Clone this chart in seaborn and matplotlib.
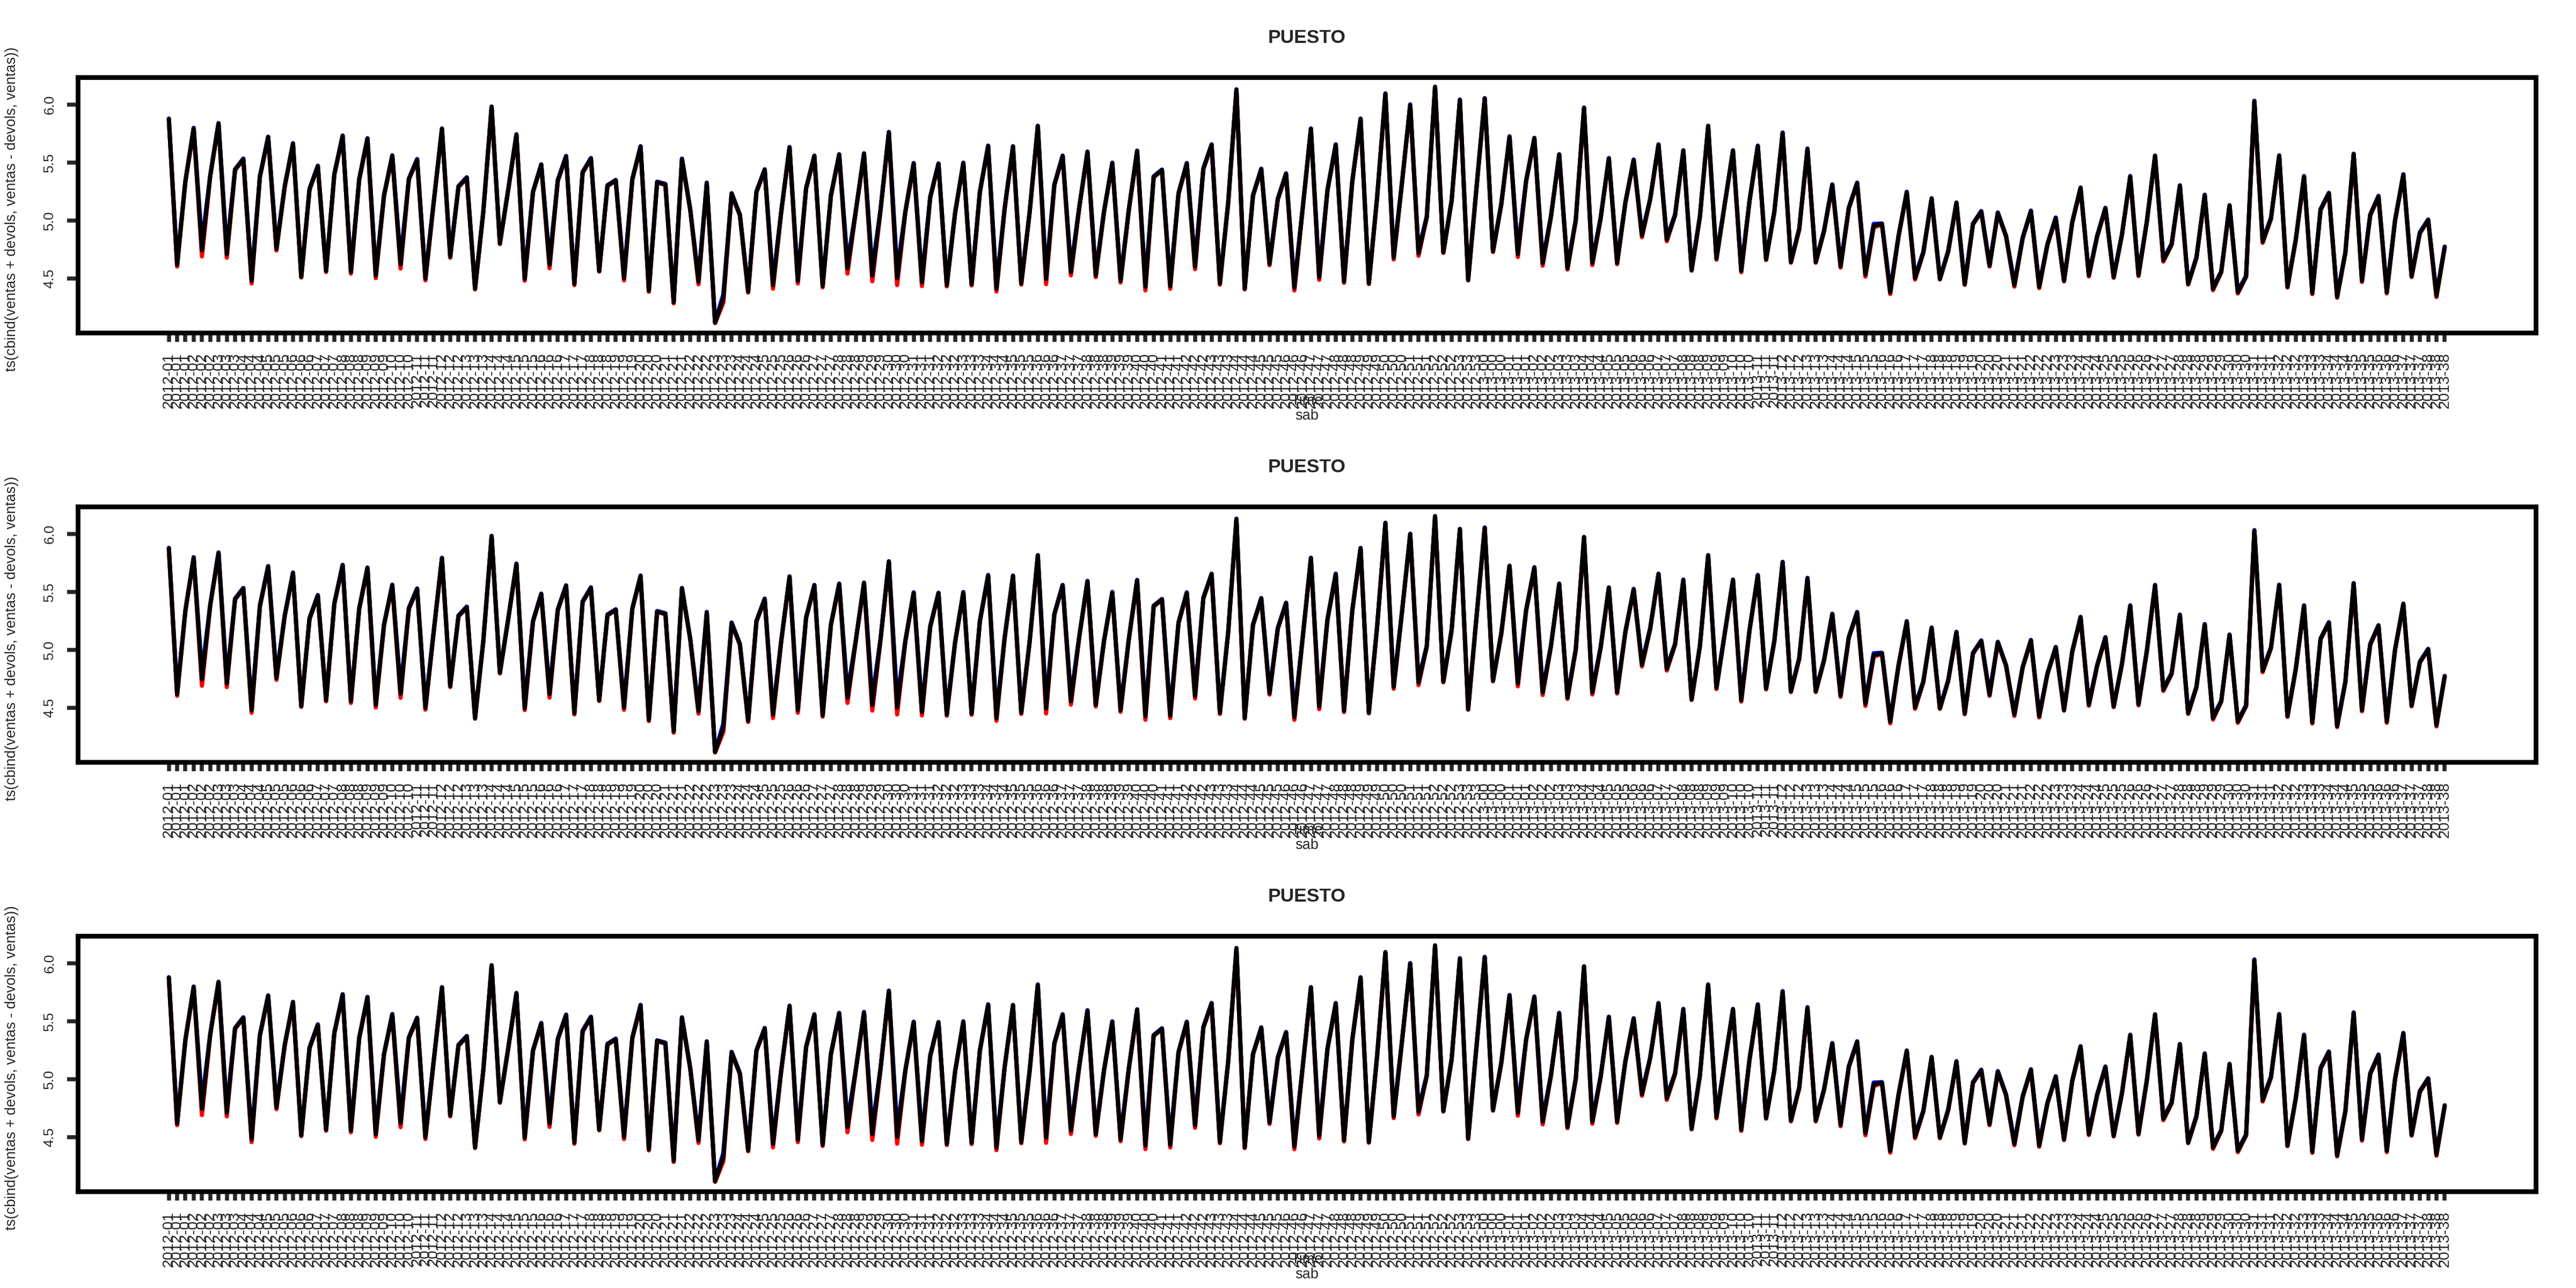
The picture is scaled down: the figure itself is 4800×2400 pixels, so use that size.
import numpy as np
import pandas as pd
import matplotlib
matplotlib.use("Agg")
import matplotlib.pyplot as plt
import seaborn as sns

# ventas por dia de mercado (3 por semana)
ventas = [
    5.874, 4.618, 5.338, 5.794, 4.744, 5.384, 5.835, 4.710, 5.437, 5.529, 4.480, 5.376,
    5.718, 4.756, 5.292, 5.662, 4.514, 5.269, 5.468, 4.564, 5.399, 5.728, 4.557, 5.353,
    5.705, 4.526, 5.215, 5.557, 4.621, 5.356, 5.525, 4.499, 5.154, 5.789, 4.687, 5.292,
    5.368, 4.411, 5.077, 5.978, 4.802, 5.261, 5.739, 4.496, 5.246, 5.480, 4.618, 5.345,
    5.552, 4.453, 5.414, 5.534, 4.564, 5.300, 5.345, 4.503, 5.353, 5.636, 4.396, 5.330,
    5.310, 4.296, 5.529, 5.093, 4.473, 5.322, 4.120, 4.327, 5.231, 5.047, 4.388, 5.246,
    5.437, 4.442, 5.077, 5.629, 4.480, 5.276, 5.555, 4.434, 5.215, 5.567, 4.587, 5.077,
    5.575, 4.526, 5.093, 5.759, 4.503, 5.077, 5.491, 4.465, 5.200, 5.488, 4.442, 5.062,
    5.494, 4.450, 5.246, 5.641, 4.411, 5.108, 5.636, 4.457, 5.062, 5.812, 4.496, 5.307,
    5.555, 4.557, 5.108, 5.590, 4.526, 5.077, 5.494, 4.480, 5.093, 5.598, 4.427, 5.376,
    5.434, 4.434, 5.231, 5.491, 4.603, 5.445, 5.652, 4.457, 5.150, 6.126, 4.411, 5.215,
    5.442, 4.626, 5.185, 5.402, 4.419, 5.100, 5.789, 4.511, 5.261, 5.652, 4.473, 5.338,
    5.874, 4.457, 5.200, 6.091, 4.679, 5.322, 5.996, 4.718, 5.031, 6.149, 4.725, 5.169,
    6.038, 4.488, 5.276, 6.050, 4.733, 5.139, 5.721, 4.710, 5.338, 5.708, 4.633, 5.031,
    5.567, 4.587, 5.001, 5.969, 4.633, 5.016, 5.534, 4.633, 5.154, 5.521, 4.871, 5.185,
    5.652, 4.836, 5.047, 5.601, 4.572, 5.031, 5.812, 4.672, 5.139, 5.601, 4.564, 5.169,
    5.641, 4.664, 5.077, 5.754, 4.641, 4.924, 5.616, 4.641, 4.909, 5.307, 4.606, 5.108,
    5.322, 4.534, 4.955, 4.970, 4.381, 4.863, 5.243, 4.503, 4.725, 5.188, 4.496, 4.733,
    5.151, 4.450, 4.970, 5.077, 4.611, 5.065, 4.863, 4.442, 4.848, 5.081, 4.427, 4.794,
    5.021, 4.480, 4.986, 5.280, 4.526, 4.863, 5.105, 4.511, 4.878, 5.379, 4.529, 4.986,
    5.555, 4.656, 4.794, 5.299, 4.453, 4.679, 5.218, 4.411, 4.557, 5.128, 4.381, 4.518,
    6.027, 4.817, 5.016, 5.557, 4.427, 4.832, 5.379, 4.373, 5.093, 5.234, 4.342, 4.725,
    5.571, 4.480, 5.047, 5.208, 4.381, 5.001, 5.394, 4.518, 4.894, 5.004, 4.350, 4.771,
]

# devoluciones (separacion entre las series azul/roja y la negra)
devols = [
    0.004, 0.015, 0.004, 0.004, 0.054, 0.004, 0.004, 0.031, 0.004, 0.004, 0.023, 0.004,
    0.004, 0.015, 0.004, 0.004, 0.005, 0.004, 0.004, 0.008, 0.004, 0.004, 0.015, 0.004,
    0.004, 0.023, 0.004, 0.004, 0.035, 0.004, 0.004, 0.015, 0.004, 0.004, 0.008, 0.004,
    0.004, 0.005, 0.004, 0.004, 0.006, 0.004, 0.004, 0.015, 0.004, 0.004, 0.030, 0.004,
    0.004, 0.010, 0.004, 0.004, 0.005, 0.004, 0.004, 0.020, 0.004, 0.004, 0.010, 0.004,
    0.004, 0.010, 0.004, 0.004, 0.023, 0.004, 0.005, 0.035, 0.004, 0.004, 0.010, 0.004,
    0.004, 0.030, 0.004, 0.004, 0.023, 0.004, 0.004, 0.010, 0.004, 0.004, 0.045, 0.004,
    0.004, 0.050, 0.004, 0.004, 0.060, 0.004, 0.004, 0.030, 0.004, 0.004, 0.010, 0.004,
    0.004, 0.010, 0.004, 0.004, 0.023, 0.004, 0.004, 0.010, 0.004, 0.004, 0.045, 0.004,
    0.004, 0.030, 0.004, 0.004, 0.015, 0.004, 0.004, 0.015, 0.004, 0.004, 0.030, 0.004,
    0.004, 0.023, 0.004, 0.004, 0.023, 0.004, 0.004, 0.010, 0.004, 0.004, 0.005, 0.004,
    0.004, 0.012, 0.004, 0.004, 0.023, 0.004, 0.004, 0.023, 0.004, 0.004, 0.010, 0.004,
    0.004, 0.005, 0.004, 0.004, 0.015, 0.004, 0.004, 0.023, 0.004, 0.004, 0.005, 0.004,
    0.004, 0.005, 0.004, 0.004, 0.005, 0.004, 0.004, 0.025, 0.004, 0.004, 0.023, 0.004,
    0.004, 0.010, 0.004, 0.004, 0.018, 0.004, 0.004, 0.010, 0.004, 0.004, 0.015, 0.004,
    0.004, 0.015, 0.004, 0.004, 0.005, 0.004, 0.004, 0.010, 0.004, 0.004, 0.010, 0.004,
    0.004, 0.005, 0.004, 0.004, 0.005, 0.004, 0.004, 0.005, 0.004, 0.004, 0.012, 0.004,
    0.004, 0.018, 0.015, 0.004, 0.015, 0.004, 0.004, 0.012, 0.004, 0.004, 0.005, 0.004,
    0.004, 0.005, 0.004, 0.004, 0.008, 0.004, 0.004, 0.012, 0.004, 0.004, 0.010, 0.004,
    0.004, 0.005, 0.004, 0.004, 0.008, 0.004, 0.004, 0.005, 0.004, 0.004, 0.008, 0.004,
    0.004, 0.010, 0.004, 0.004, 0.005, 0.004, 0.004, 0.012, 0.004, 0.004, 0.010, 0.004,
    0.004, 0.010, 0.004, 0.004, 0.005, 0.004, 0.004, 0.008, 0.004, 0.004, 0.008, 0.004,
    0.004, 0.010, 0.004, 0.004, 0.010, 0.004, 0.004, 0.005, 0.004, 0.004, 0.010, 0.004,
]

# etiquetas del eje x: semana del anio, tres dias por semana
semanas = [f"2012-{w:02d}" for w in range(1, 54)] + [f"2013-{w:02d}" for w in range(0, 39)]
sab = [s for s in semanas for _ in range(3)]

yticks = [4.5, 5.0, 5.5, 6.0]

sns.set_style("ticks")
plt.rcParams['font.family'] = ['Liberation Sans', 'DejaVu Sans']

v = np.array(ventas)
d = np.array(devols)
n = len(v)
df = pd.DataFrame({"t": np.arange(n),
                   "ventas + devols": v + d,
                   "ventas - devols": v - d,
                   "ventas": v})

lo = df["ventas - devols"].min()
hi = df["ventas + devols"].max()
pad = (hi - lo) * 0.04

fig = plt.figure(figsize=(16, 8), dpi=300)

W, H = 4800, 2400
for k in range(3):
    off = 800 * k
    top, bot = 143.8 + off, 619.8 + off
    ax = fig.add_axes([145 / W, 1 - bot / H, 4580 / W, (bot - top) / H])

    # azul, rojo y negro encima, como en el original
    for col, c in [("ventas + devols", "#0000FF"), ("ventas - devols", "#FF0000"), ("ventas", "black")]:
        sns.lineplot(data=df, x="t", y=col, color=c, lw=1.9, ax=ax, legend=False)

    ax.set_xlim(-(n - 1) * 0.04, (n - 1) * 1.04)
    ax.set_ylim(lo - pad, hi + pad)
    ax.set_xlabel("")
    ax.set_ylabel("")

    ax.set_xticks(np.arange(n))
    ax.set_xticklabels(sab, rotation=90, fontsize=6.8)
    ax.set_yticks(yticks)
    ax.set_yticklabels([f"{t:.1f}" for t in yticks], rotation=90, va="center", fontsize=6.3)
    ax.tick_params(axis="x", length=4.0, width=1.8, pad=5)
    ax.tick_params(axis="y", length=4.8, width=1.8, pad=5)
    for s in ax.spines.values():
        s.set_visible(True)
        s.set_linewidth(2.1)
        s.set_color("black")

    fig.text(2435 / W, 1 - (70 + off) / H, "PUESTO", ha="center", va="center",
             fontsize=8.5, fontweight="bold")
    fig.text(22 / W, 1 - (390 + off) / H, "ts(cbind(ventas + devols, ventas - devols, ventas))",
             rotation=90, ha="center", va="center", fontsize=6.5)
    fig.text(2435 / W, 1 - (747 + off) / H, "Time", ha="center", va="center", fontsize=6.5)
    fig.text(2435 / W, 1 - (775 + off) / H, "sab", ha="center", va="center", fontsize=6.5)

fig.savefig("out.png", dpi=300, facecolor="white")
